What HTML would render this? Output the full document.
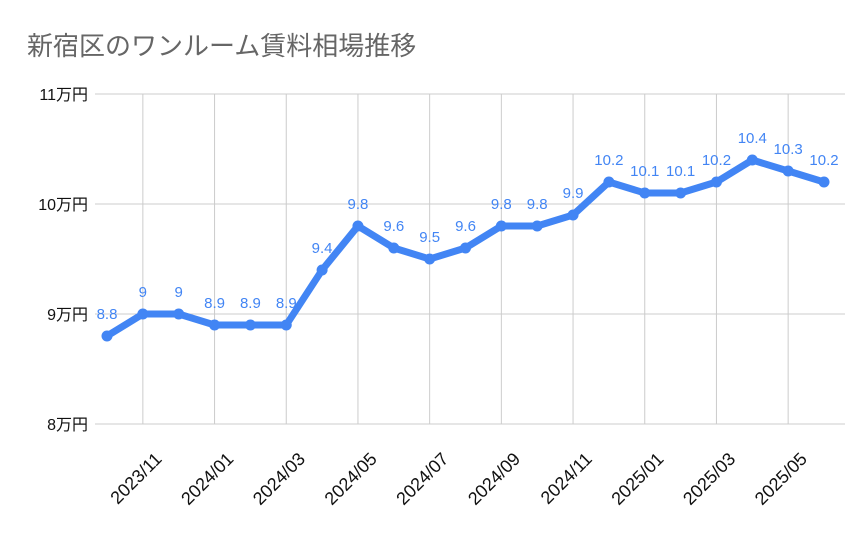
<!DOCTYPE html>
<html><head><meta charset="utf-8"><style>
body{margin:0;background:#fff;width:859px;height:531px;overflow:hidden}
text{font-family:"Liberation Sans","Noto Sans CJK JP",sans-serif}
</style></head><body>
<svg id="chart" width="859" height="531" xmlns="http://www.w3.org/2000/svg">
<text x="27" y="55" font-size="26" fill="#666">新宿区のワンルーム賃料相場推移</text>
<g id="grid"></g><g id="axes"></g><g id="series"></g><g id="labels"></g>
</svg>
<script>
const months=["2023/10","2023/11","2023/12","2024/01","2024/02","2024/03","2024/04","2024/05","2024/06","2024/07","2024/08","2024/09","2024/10","2024/11","2024/12","2025/01","2025/02","2025/03","2025/04","2025/05","2025/06"];
const rents=[8.8,9,9,8.9,8.9,8.9,9.4,9.8,9.6,9.5,9.6,9.8,9.8,9.9,10.2,10.1,10.1,10.2,10.4,10.3,10.2];
const yTicks=[8,9,10,11];
const yTickLabels=["8万円","9万円","10万円","11万円"];
const NS="http://www.w3.org/2000/svg";
const x0=107,x1=824,yMin=8,yMax=11,yTop=94,yBot=424,plotL=95,plotR=845;
const xs=i=>x0+(x1-x0)*i/(months.length-1);
const ys=v=>yBot-(v-yMin)/(yMax-yMin)*(yBot-yTop);
function mk(tag,attrs,parent){const e=document.createElementNS(NS,tag);for(const k in attrs)e.setAttribute(k,attrs[k]);document.getElementById(parent).appendChild(e);return e;}
yTicks.forEach((t,i)=>{
 const l=mk("line",{x1:plotL,x2:plotR,y1:ys(t),y2:ys(t),stroke:"#ccc","stroke-width":1},"grid");
 
 
 const tx=mk("text",{x:88,y:ys(t)+6,"text-anchor":"end","font-size":16,fill:"#111"},"axes");
 tx.textContent=yTickLabels[i];
 
 
});
months.forEach((m,i)=>{
 if(i%2===1){
  const l=mk("line",{x1:xs(i),x2:xs(i),y1:yTop,y2:yBot,stroke:"#ccc","stroke-width":1},"grid");
  
  
  const ax=xs(i)+20,ay=yBot+36;
  const tx=mk("text",{x:ax,y:ay,"text-anchor":"end","font-size":18,fill:"#111",transform:`rotate(-45 ${ax} ${ay})`},"axes");
  tx.textContent=m;
  
  
 }
});
const p=mk("polyline",{points:rents.map((v,i)=>xs(i)+","+ys(v)).join(" "),fill:"none",stroke:"#4285f4","stroke-width":7,"stroke-linejoin":"round"},"series");


rents.forEach((v,i)=>{
 const c=mk("circle",{cx:xs(i),cy:ys(v),r:5.5,fill:"#4285f4"},"series");
 
 
 const tx=mk("text",{x:xs(i),y:ys(v)-17,"text-anchor":"middle","font-size":15,fill:"#4285f4"},"labels");
 tx.textContent=String(v);
 
 
});
</script>
</body></html>
